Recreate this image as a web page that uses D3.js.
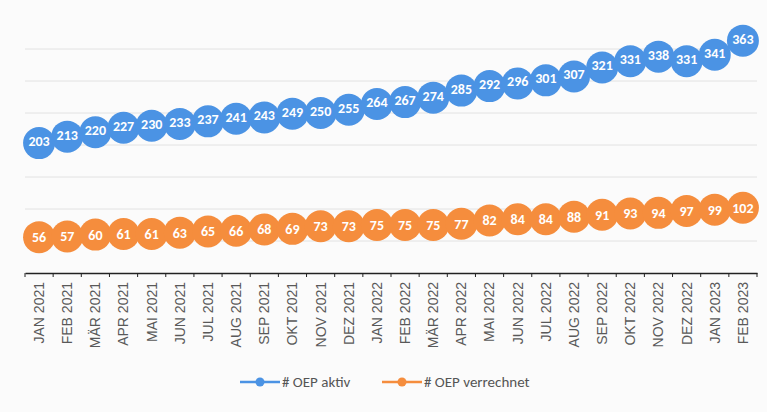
<!DOCTYPE html>
<html>
<head>
<meta charset="utf-8">
<script src="https://cdn.jsdelivr.net/npm/d3@7"></script>
<style>
  body { margin: 0; background: #fbfbfb; }
  svg { display: block; font-family: Carlito, "Open Sans", sans-serif; }
</style>
</head>
<body>
<svg id="chart" width="767" height="412"></svg>
<script>
// data
const months = ["JAN 2021", "FEB 2021", "MÄR 2021", "APR 2021", "MAI 2021", "JUN 2021",
  "JUL 2021", "AUG 2021", "SEP 2021", "OKT 2021", "NOV 2021", "DEZ 2021",
  "JAN 2022", "FEB 2022", "MÄR 2022", "APR 2022", "MAI 2022", "JUN 2022",
  "JUL 2022", "AUG 2022", "SEP 2022", "OKT 2022", "NOV 2022", "DEZ 2022",
  "JAN 2023", "FEB 2023"];
const oepAktiv = [203, 213, 220, 227, 230, 233, 237, 241, 243, 249, 250, 255, 264,
  267, 274, 285, 292, 296, 301, 307, 321, 331, 338, 331, 341, 363];
const oepVerrechnet = [56, 57, 60, 61, 61, 63, 65, 66, 68, 69, 73, 73, 75,
  75, 75, 77, 82, 84, 84, 88, 91, 93, 94, 97, 99, 102];
const seriesNames = ["# OEP aktiv", "# OEP verrechnet"];
const yTicks = [0, 50, 100, 150, 200, 250, 300, 350, 400];

const colors = ["#4b93e4", "#f58d3d"];

let svg = d3.select("#chart");
let plotLeft = 25, plotRight = 757, plotTop = 17, plotBottom = 273;

let x = d3.scaleBand().domain(months).range([plotLeft, plotRight]);
let y = d3.scaleLinear().domain([0, 400]).range([plotBottom, plotTop]);

// gridlines
svg.append("g").selectAll("line")
  .data(yTicks.slice(1, -1))
  .enter().append("line")
  .attr("x1", plotLeft).attr("x2", plotRight)
  .attr("y1", d => y(d)).attr("y2", d => y(d))
  .style("stroke", "#e2e2e2")
  .style("stroke-width", 1);

// x axis
let xAxis = svg.append("g")
  .attr("transform", `translate(0,${plotBottom})`)
  .call(d3.axisBottom(x).tickSize(0).tickPadding(0));
xAxis.select(".domain").style("stroke", "#222").style("stroke-width", 1.5);
xAxis.selectAll(".tick text")
  .attr("transform", "rotate(-90)")
  .attr("text-anchor", "end")
  .attr("x", -9).attr("y", 0).attr("dy", "0.35em")
  .style("font-size", "14px")
  .style("font-family", "'Liberation Sans', Arial, sans-serif")
  .style("fill", "#595959");
// small ticks at category boundaries
svg.append("g").selectAll("line")
  .data(months.concat(["end"]))
  .enter().append("line")
  .attr("x1", (d, i) => plotLeft + i * x.step()).attr("x2", (d, i) => plotLeft + i * x.step())
  .attr("y1", plotBottom).attr("y2", plotBottom + 4)
  .style("stroke", "#222").style("stroke-width", 1);

let allSeries = [oepAktiv, oepVerrechnet];

allSeries.forEach((vals, s) => {
  let pts = vals.map((v, i) => [x(months[i]) + x.bandwidth() / 2, y(v)]);

  svg.append("path")
    .datum(pts)
    .attr("d", d3.line())
    .style("fill", "none")
    .style("stroke", colors[s])
    .style("stroke-width", 2.5);

  let g = svg.append("g");
  g.selectAll("circle")
    .data(pts)
    .enter().append("circle")
    .attr("cx", d => d[0]).attr("cy", d => d[1])
    .attr("r", 16)
    .style("fill", colors[s]);

  g.selectAll("text")
    .data(vals)
    .enter().append("text")
    .attr("x", (d, i) => pts[i][0])
    .attr("y", (d, i) => pts[i][1] - (s === 0 ? 2 : 0))
    .attr("dy", "0.35em")
    .attr("text-anchor", "middle")
    .style("font-size", "14px")
    .style("font-weight", "bold")
    .style("fill", "#fff")
    .text(d => d);
});

// legend
let legend = svg.append("g").attr("transform", "translate(240,382)");
let legX = [0, 142];
seriesNames.forEach((name, s) => {
  let lg = legend.append("g").attr("transform", `translate(${legX[s]},0)`);
  lg.append("line").attr("x1", 0).attr("x2", 40).attr("y1", 0).attr("y2", 0)
    .style("stroke", colors[s]).style("stroke-width", 2.5);
  lg.append("circle").attr("cx", 20).attr("cy", 0).attr("r", 4.5).style("fill", colors[s]);
  lg.append("text").attr("x", 42).attr("y", 0).attr("dy", "0.35em")
    .style("font-size", "15px")
    .style("fill", "#555")
    .text(name);
});
</script>
</body>
</html>
